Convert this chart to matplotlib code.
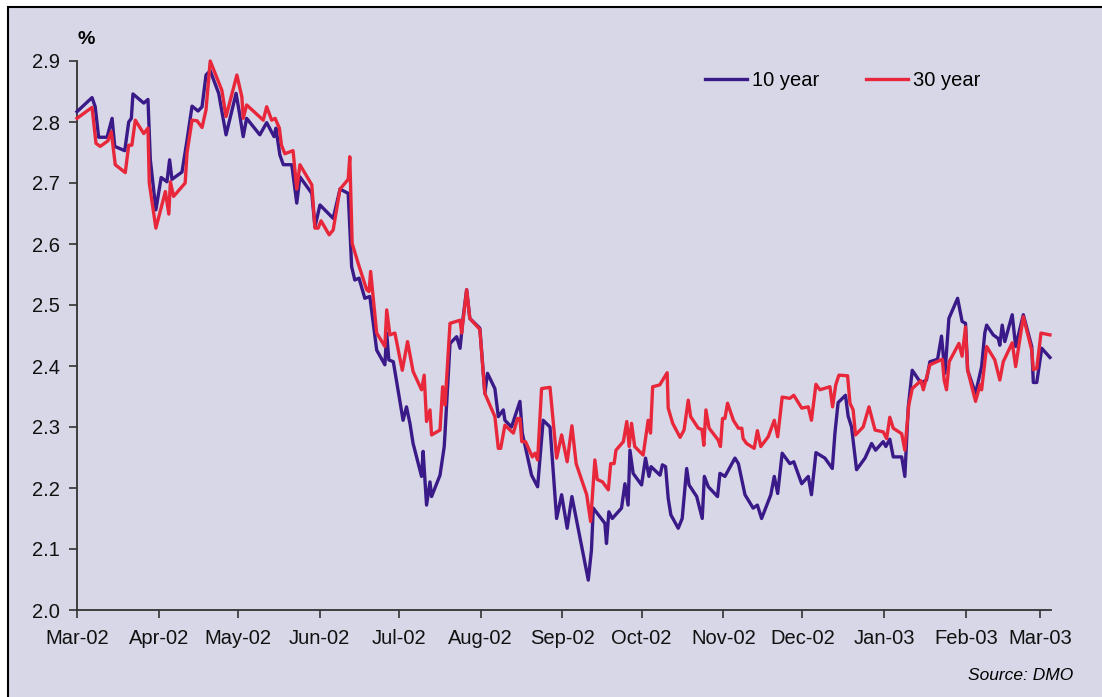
import numpy as np
import pandas as pd
import matplotlib
matplotlib.use("Agg")
import matplotlib.pyplot as plt
import matplotlib.dates as mdates
from matplotlib.patches import Rectangle

plt.rcParams['font.family'] = ['Liberation Sans', 'DejaVu Sans']

# days after 1 Mar 2002
ten_days = [0.0, 5.7, 6.9, 8.2, 11.4, 13.3, 14.3, 18.1, 19.6, 20.6, 21.2, 25.3, 26.9, 27.8, 29.9,
            31.9, 34.1, 35.1, 36.0, 39.8, 41.7, 43.6, 45.9, 47.4, 48.9, 50.5, 53.7, 56.5, 60.3,
            61.6, 63.0, 64.3, 69.3, 71.9, 74.7, 75.4, 76.9, 78.2, 81.4, 83.3, 84.5, 89.0, 90.2,
            92.1, 97.1, 99.7, 102.8, 104.1, 105.3, 106.9, 109.1, 111.0, 113.6, 116.7, 117.4,
            118.2, 119.9, 123.6, 124.9, 126.2, 127.4, 130.6, 131.2, 132.5, 133.8, 134.4, 137.6,
            139.2, 139.5, 141.4, 143.9, 145.2, 146.4, 147.7, 148.9, 152.7, 154.6, 155.6, 158.4,
            159.7, 161.6, 162.2, 164.7, 167.9, 168.8, 172.3, 174.6, 176.7, 179.3, 181.8, 183.7,
            185.8, 187.6, 193.8, 195.0, 195.7, 200.1, 200.7, 201.6, 202.9, 206.4, 207.7, 208.9,
            209.6, 210.8, 214.0, 215.5, 216.8, 217.6, 221.0, 221.9, 223.1, 224.1, 225.1, 227.9,
            229.4, 231.1, 232.0, 234.9, 237.0, 237.8, 239.3, 242.8, 243.7, 245.6, 249.4, 250.7,
            253.2, 256.3, 257.9, 259.5, 263.0, 264.3, 265.6, 267.3, 270.2, 271.7, 274.7, 277.2,
            278.4, 280.1, 283.5, 286.3, 287.3, 288.5, 291.3, 292.3, 293.6, 295.5, 298.7, 301.2,
            302.7, 305.6, 306.6, 308.1, 309.4, 312.6, 313.8, 315.1, 316.6, 319.9, 322.0, 323.3,
            326.2, 327.7, 329.0, 330.5, 333.8, 335.5, 336.8, 337.6, 340.6, 342.9, 344.1, 344.8,
            347.3, 349.2, 349.8, 350.7, 351.7, 354.5, 355.8, 358.7, 361.9, 362.5, 363.8, 365.7,
            368.8]
ten_year = [2.817, 2.840, 2.825, 2.775, 2.775, 2.806, 2.760, 2.753, 2.800, 2.806, 2.846, 2.831,
            2.837, 2.738, 2.656, 2.709, 2.702, 2.738, 2.706, 2.718, 2.770, 2.826, 2.818, 2.825,
            2.877, 2.884, 2.847, 2.779, 2.847, 2.814, 2.776, 2.806, 2.779, 2.799, 2.776, 2.790,
            2.746, 2.730, 2.730, 2.667, 2.710, 2.683, 2.628, 2.664, 2.642, 2.690, 2.683, 2.563,
            2.541, 2.544, 2.511, 2.514, 2.426, 2.402, 2.454, 2.410, 2.407, 2.311, 2.333, 2.306,
            2.273, 2.219, 2.260, 2.172, 2.210, 2.186, 2.221, 2.268, 2.290, 2.437, 2.448, 2.429,
            2.481, 2.525, 2.478, 2.462, 2.355, 2.388, 2.363, 2.317, 2.328, 2.311, 2.300, 2.342,
            2.290, 2.221, 2.202, 2.311, 2.300, 2.150, 2.189, 2.134, 2.186, 2.049, 2.098, 2.167,
            2.142, 2.109, 2.161, 2.150, 2.167, 2.207, 2.172, 2.262, 2.224, 2.205, 2.249, 2.219,
            2.235, 2.221, 2.238, 2.235, 2.183, 2.156, 2.134, 2.150, 2.232, 2.205, 2.186, 2.150,
            2.219, 2.202, 2.186, 2.224, 2.219, 2.249, 2.240, 2.189, 2.167, 2.172, 2.150, 2.189,
            2.219, 2.191, 2.257, 2.240, 2.243, 2.207, 2.219, 2.189, 2.258, 2.249, 2.232, 2.290,
            2.340, 2.352, 2.318, 2.300, 2.230, 2.249, 2.273, 2.262, 2.276, 2.268, 2.280, 2.251,
            2.251, 2.219, 2.333, 2.393, 2.372, 2.377, 2.407, 2.411, 2.449, 2.388, 2.478, 2.511,
            2.473, 2.470, 2.393, 2.355, 2.399, 2.454, 2.467, 2.451, 2.445, 2.434, 2.467, 2.440,
            2.484, 2.432, 2.484, 2.432, 2.373, 2.373, 2.429, 2.414]

thirty_days = [0.0, 5.7, 7.2, 8.8, 11.7, 13.0, 14.5, 18.3, 19.6, 20.8, 22.1, 25.3, 26.9, 27.4,
               29.9, 33.5, 34.8, 35.4, 36.6, 41.0, 41.7, 43.6, 45.5, 47.4, 48.9, 50.5, 54.9, 56.5,
               60.6, 62.5, 63.0, 64.3, 70.6, 71.9, 73.8, 75.1, 76.7, 77.5, 78.8, 81.9, 83.3, 84.5,
               89.0, 90.2, 91.4, 92.5, 95.6, 97.1, 99.7, 102.8, 103.4, 104.3, 106.6, 109.8, 110.7,
               111.3, 113.6, 116.7, 117.4, 118.6, 120.5, 123.3, 125.3, 127.4, 130.6, 131.6, 132.5,
               133.8, 134.4, 137.6, 138.6, 139.5, 141.4, 145.2, 145.8, 147.7, 148.9, 152.7, 154.6,
               158.4, 159.7, 160.6, 162.2, 165.4, 167.0, 167.9, 168.6, 170.0, 172.6, 173.6, 174.6,
               176.1, 179.3, 181.8, 183.7, 185.8, 187.6, 189.2, 193.2, 194.7, 196.3, 197.2, 199.2,
               201.4, 202.3, 203.6, 204.3, 207.1, 208.4, 209.3, 210.2, 211.4, 214.6, 216.5, 217.4,
               218.2, 220.9, 223.7, 224.1, 225.8, 228.6, 230.1, 231.7, 232.6, 235.5, 236.9, 237.6,
               238.4, 239.6, 243.0, 243.9, 244.7, 245.6, 246.6, 248.8, 250.7, 252.0, 252.5, 253.8,
               256.7, 257.9, 259.2, 262.0, 264.3, 265.6, 267.3, 270.2, 271.7, 274.7, 277.2, 278.4,
               280.1, 281.6, 285.4, 286.4, 287.6, 288.8, 292.1, 293.0, 294.2, 295.1, 298.0, 300.2,
               302.5, 305.6, 306.9, 308.1, 309.4, 312.6, 313.8, 315.3, 316.6, 319.9, 320.8, 323.3,
               328.0, 328.7, 329.6, 330.6, 334.3, 335.5, 336.8, 337.6, 340.6, 342.3, 342.9, 344.8,
               347.9, 349.8, 351.1, 354.5, 355.8, 358.7, 361.9, 362.5, 363.8, 365.4, 368.8]
thirty_year = [2.806, 2.824, 2.765, 2.760, 2.769, 2.784, 2.730, 2.717, 2.762, 2.762, 2.803, 2.781,
               2.790, 2.700, 2.626, 2.686, 2.649, 2.702, 2.678, 2.700, 2.749, 2.803, 2.802, 2.791,
               2.820, 2.900, 2.852, 2.809, 2.877, 2.841, 2.806, 2.828, 2.803, 2.825, 2.803, 2.806,
               2.790, 2.762, 2.748, 2.753, 2.690, 2.730, 2.697, 2.626, 2.626, 2.638, 2.615, 2.623,
               2.690, 2.706, 2.743, 2.601, 2.568, 2.525, 2.522, 2.555, 2.454, 2.432, 2.492, 2.451,
               2.454, 2.393, 2.440, 2.391, 2.361, 2.385, 2.309, 2.328, 2.287, 2.295, 2.366, 2.336,
               2.470, 2.475, 2.454, 2.525, 2.478, 2.460, 2.355, 2.317, 2.265, 2.265, 2.303, 2.290,
               2.314, 2.314, 2.276, 2.276, 2.251, 2.257, 2.246, 2.363, 2.365, 2.249, 2.287, 2.243,
               2.302, 2.240, 2.189, 2.145, 2.246, 2.214, 2.210, 2.197, 2.240, 2.240, 2.262, 2.276,
               2.309, 2.268, 2.306, 2.268, 2.254, 2.311, 2.290, 2.366, 2.369, 2.389, 2.331, 2.306,
               2.283, 2.295, 2.344, 2.317, 2.298, 2.296, 2.270, 2.328, 2.298, 2.279, 2.268, 2.314,
               2.314, 2.339, 2.311, 2.298, 2.298, 2.281, 2.273, 2.265, 2.294, 2.268, 2.284, 2.311,
               2.284, 2.349, 2.347, 2.352, 2.331, 2.333, 2.311, 2.370, 2.361, 2.366, 2.333, 2.369,
               2.385, 2.384, 2.339, 2.328, 2.287, 2.300, 2.333, 2.295, 2.292, 2.281, 2.316, 2.298,
               2.289, 2.262, 2.336, 2.363, 2.376, 2.361, 2.402, 2.411, 2.377, 2.361, 2.407, 2.437,
               2.416, 2.464, 2.393, 2.342, 2.369, 2.361, 2.432, 2.410, 2.377, 2.407, 2.438, 2.399,
               2.481, 2.426, 2.394, 2.396, 2.454, 2.451]

start = pd.Timestamp('2002-03-01')
ten_dates = start + pd.to_timedelta(ten_days, unit='D')
thirty_dates = start + pd.to_timedelta(thirty_days, unit='D')

bg = '#d7d7e7'
purple = '#3a1a88'
red = '#e8283a'

fig = plt.figure(figsize=(11.02, 6.97), dpi=100, facecolor='white')
# lavender panel with a black frame on top and left
fig.patches.append(Rectangle((8.3 / 1102, -0.1), 1.2, 1.1 - 7.3 / 697,
                             transform=fig.transFigure, facecolor=bg,
                             edgecolor='black', linewidth=1.5, zorder=-10))

ax = fig.add_axes([77 / 1102, 1 - 610 / 697, (1051 - 77) / 1102, (610 - 61) / 697])
ax.set_zorder(5)
ax.patch.set_alpha(0)

ax.plot(ten_dates, ten_year, color=purple, lw=2.4, label='10 year', clip_on=False, zorder=3)
ax.plot(thirty_dates, thirty_year, color=red, lw=2.4, label='30 year', clip_on=False, zorder=4)

ax.set_ylim(2.0, 2.9)
ax.set_yticks(np.arange(2.0, 2.95, 0.1))
ax.yaxis.set_major_formatter(plt.FormatStrFormatter('%.1f'))
ax.set_xlim(start, start + pd.Timedelta(days=369.2))
ax.xaxis.set_major_locator(mdates.MonthLocator())
ax.xaxis.set_major_formatter(mdates.DateFormatter('%b-%y'))

for side in ['top', 'right']:
    ax.spines[side].set_visible(False)
for side in ['left', 'bottom']:
    ax.spines[side].set_color('#333333')
    ax.spines[side].set_linewidth(1.3)

ax.tick_params(axis='both', direction='out', length=6, width=1.2, color='#333333',
               labelsize=14.5, labelcolor='#111111')
ax.tick_params(axis='x', pad=8)
ax.tick_params(axis='y', pad=6)

fig.text(78 / 1102, 1 - 39 / 697, '%', fontsize=14, fontweight='bold', va='center', ha='left')

ax.legend(loc='center left', bbox_to_anchor=(705 / 1102, 1 - 81 / 697),
          bbox_transform=fig.transFigure, ncol=2, frameon=False, fontsize=14.5,
          handlelength=2.1, handletextpad=0.25, columnspacing=2.3, borderpad=0, borderaxespad=0)

fig.text(1073 / 1102, 1 - 675 / 697, 'Source: DMO', fontsize=12.5, style='italic',
         ha='right', va='center')

fig.savefig('out.png', dpi=100, facecolor='white')
